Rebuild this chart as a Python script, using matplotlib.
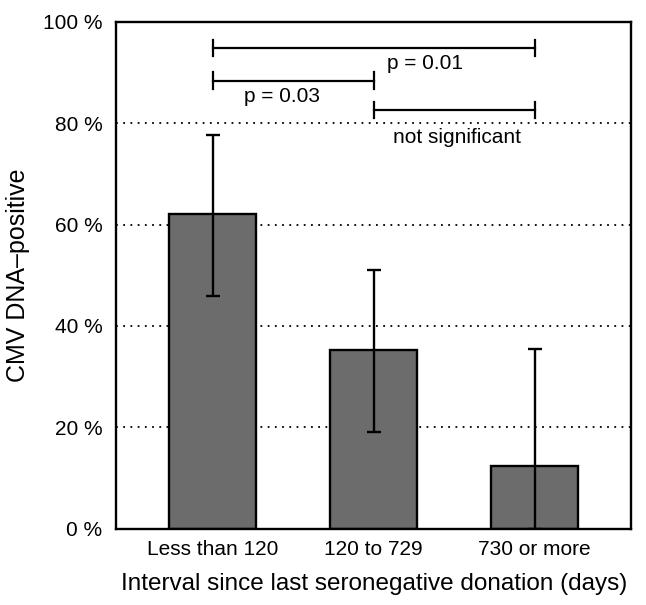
import matplotlib
matplotlib.use("Agg")
import matplotlib.pyplot as plt

plt.rcParams["font.family"] = ["Liberation Sans", "DejaVu Sans"]

categories = ["Less than 120", "120 to 729", "730 or more"]
values = [62.0, 35.3, 12.4]
err_low = [16.0, 16.2, 12.4]
err_high = [15.7, 15.8, 23.1]

y_ticks = [0, 20, 40, 60, 80, 100]
y_tick_labels = ["0 %", "20 %", "40 %", "60 %", "80 %", "100 %"]

# comparisons: (from bar, to bar, bracket height, label, label x, label y)
comparisons = [
    (0, 2, 94.9, "p = 0.01", 1.32, 91.8),
    (0, 1, 88.4, "p = 0.03", 0.43, 85.2),
    (1, 2, 82.6, "not significant", 1.52, 77.1),
]

fig = plt.figure(figsize=(6.46, 6.05), dpi=100)
ax = fig.add_axes([0.18, 0.126, 0.797, 0.838])

x = list(range(len(categories)))

for yv in y_ticks[1:-1]:
    ax.axhline(yv, color="black", linestyle=(0, (1, 3)), linewidth=1.3, zorder=1)

ax.bar(x, values, width=0.54, color="#6c6c6c", edgecolor="black",
       linewidth=1.7, zorder=2)
ax.errorbar(x, values, yerr=[err_low, err_high], fmt="none", ecolor="black",
            elinewidth=1.7, capsize=5, capthick=1.7, zorder=3)

for a, b, h, label, tx, ty in comparisons:
    ax.plot([a, b], [h, h], color="black", linewidth=1.6, zorder=3)
    ax.plot([a, a], [h - 1.6, h + 1.6], color="black", linewidth=1.6, zorder=3)
    ax.plot([b, b], [h - 1.6, h + 1.6], color="black", linewidth=1.6, zorder=3)
    ax.text(tx, ty, label, ha="center", va="center", fontsize=15)

ax.set_xlim(-0.6, 2.6)
ax.set_ylim(0, 100)
ax.set_yticks(y_ticks)
ax.set_yticklabels(y_tick_labels, fontsize=15)
ax.set_xticks(x)
ax.set_xticklabels(categories, fontsize=15)
ax.tick_params(axis="both", length=0)
ax.tick_params(axis="y", pad=10)
ax.tick_params(axis="x", pad=8)

for s in ax.spines.values():
    s.set_linewidth(1.7)

ax.set_ylabel("CMV DNA\u2013positive", fontsize=18, labelpad=9)
ax.set_xlabel("Interval since last seronegative donation (days)", fontsize=17.5,
              labelpad=10)

fig.savefig("out.png", dpi=100)
